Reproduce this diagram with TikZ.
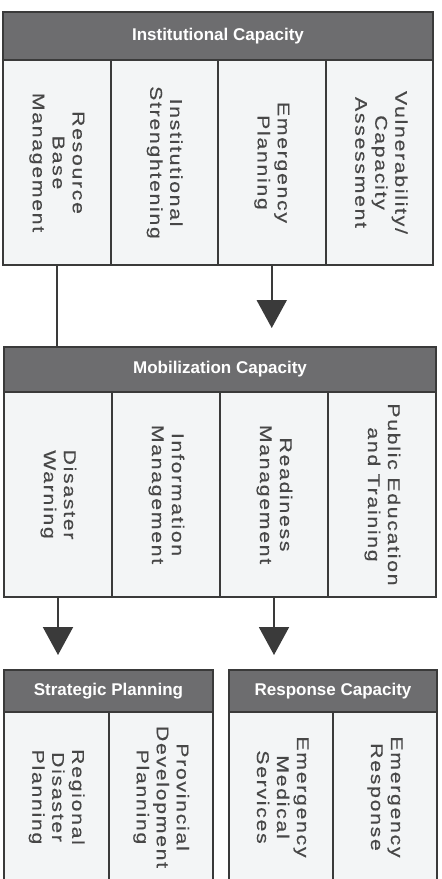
\documentclass[tikz,border=0pt]{standalone}
\usepackage{fontspec}
\setmainfont{Liberation Sans}
\newfontfamily\cellfont[FakeStretch=1.25,LetterSpace=10,FakeBold=0.4]{Liberation Sans}
\usetikzlibrary{arrows.meta}
\definecolor{headgray}{HTML}{6D6D6F}
\definecolor{linegray}{HTML}{3A3A3A}
\definecolor{cellfill}{HTML}{F3F5F6}
\definecolor{textgray}{HTML}{474747}
\newcommand{\vlabel}[1]{\rotatebox{-90}{\begin{tabular}{@{}c@{}}#1\end{tabular}}}

\begin{document}
\begin{tikzpicture}[x=0.5pt,y=-0.5pt,
        head/.style={draw=linegray,line width=1pt,fill=headgray,text=white,
            font=\fontsize{8.5}{10}\selectfont\bfseries,inner sep=0pt,outer sep=0pt},
        cell/.style={draw=linegray,line width=1pt,fill=cellfill,text=textgray,
            font=\cellfont\fontsize{8.5}{10}\selectfont,inner sep=0pt,outer sep=0pt},
        link/.style={draw=linegray,line width=1pt},
        arrow/.style={link,-{Triangle[width=15pt,length=14pt]}}]

            \useasboundingbox (0,0) rectangle (442,879);

            \begin{scope}[cell/.append style={minimum width=53.75pt,minimum height=102.5pt}]
                \node[head,minimum width=215pt,minimum height=24pt] (inst) at (218,36) {Institutional Capacity};
                \node[cell] (rbm) at (56.75,162.5) {\vlabel{Resource\\Base\\Management}};
                \node[cell] (ins) at (164.25,162.5) {\vlabel{Institutional\\Strenghtening}};
                \node[cell] (emp) at (271.75,162.5) {\vlabel{Emergency\\Planning}};
                \node[cell] (vca) at (379.25,162.5) {\vlabel{Vulnerability/\\Capacity\\Assessment}};
            \end{scope}

            \begin{scope}[cell/.append style={minimum width=54pt,minimum height=102.5pt}]
                \node[head,minimum width=216pt,minimum height=22.5pt] (mob) at (220,369.5) {Mobilization Capacity};
                \node[cell] (dw) at (58,494.5) {\vlabel{Disaster\\Warning}};
                \node[cell] (im) at (166,494.5) {\vlabel{Information\\Management}};
                \node[cell] (rm) at (274,494.5) {\vlabel{Readiness\\Management}};
                \node[cell] (pet) at (382,494.5) {\vlabel{Public Education\\and Training}};
            \end{scope}

            \begin{scope}[cell/.append style={minimum width=52.25pt,minimum height=85pt}]
                \node[head,minimum width=104.5pt,minimum height=21pt] (strat) at (108.5,691) {Strategic Planning};
                \node[cell] (rdp) at (56.25,797) {\vlabel{Regional\\Disaster\\Planning}};
                \node[cell] (pdp) at (160.75,797) {\vlabel{Provincial\\Development\\Planning}};
            \end{scope}

            \begin{scope}[cell/.append style={minimum width=52pt,minimum height=85pt}]
                \node[head,minimum width=104pt,minimum height=21pt] (resp) at (333,691) {Response Capacity};
                \node[cell] (ems) at (281,797) {\vlabel{Emergency\\Medical\\Services}};
                \node[cell] (er) at (385,797) {\vlabel{Emergency\\Response}};
            \end{scope}

            \draw[link] (rbm.south) -- (rbm.south |- mob.north);
            \draw[arrow,shorten >=9.5pt] (emp.south) -- (emp.south |- mob.north);
            \draw[arrow,shorten >=7.5pt] (dw.south) -- (dw.south |- strat.north);
            \draw[arrow,shorten >=7.5pt] (rm.south) -- (rm.south |- resp.north);

        \end{tikzpicture}
\end{document}
